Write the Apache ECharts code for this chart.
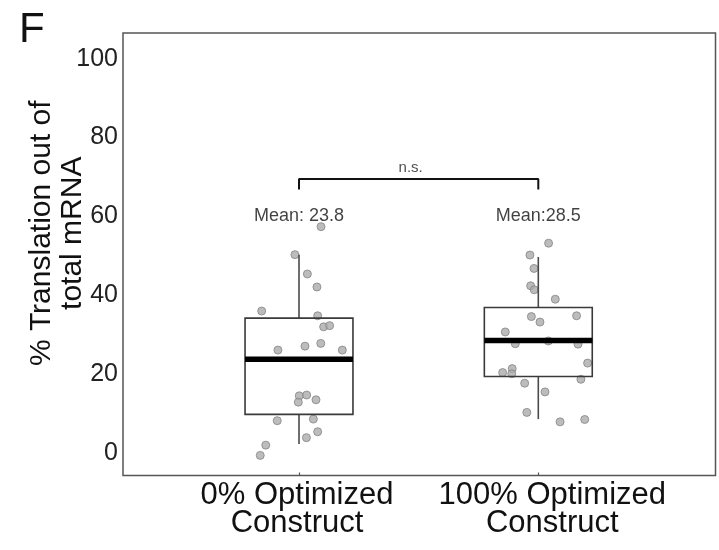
<!DOCTYPE html>
<html>
<head>
<meta charset="utf-8">
<script src="https://cdn.jsdelivr.net/npm/echarts@6/dist/echarts.min.js"></script>
<style>
  html, body { margin: 0; padding: 0; background: #fff; }
  #chart { width: 719px; height: 550px; }
</style>
</head>
<body>
<div id="chart"></div>
<script>
// Constructs compared (x positions 0 and 1 on the value axis)
const categories = ['0% Optimized\nConstruct', '100% Optimized\nConstruct'];

// Box summary per construct
const whiskerLow  = [2.3, 8.6];
const quartile1   = [9.8, 19.4];
const means       = [23.8, 28.5];
const quartile3   = [34.2, 36.9];
const whiskerHigh = [50.3, 49.7];
const meanLabels  = ['Mean: 23.8', 'Mean:28.5'];
const meanLabelLevel = 60;

// Individual measurements (% translation) and their horizontal jitter
const values0 = [57.4, 50.3, 45.4, 42.1, 36.0, 34.8, 32.0, 32.3, 26.1, 27.1, 27.8,
                 26.1, 14.5, 14.7, 12.9, 13.5, 8.2, 8.6, 5.4, 3.9, 2.0, -0.6];
const jitter0 = [0.092, -0.017, 0.035, 0.075, -0.156, 0.078, 0.103, 0.128, -0.088, 0.025, 0.091,
                 0.181, 0.001, 0.032, -0.003, 0.071, -0.091, 0.060, 0.078, 0.031, -0.139, -0.162];
const values1 = [53.2, 50.2, 46.8, 42.4, 41.4, 39.0, 34.6, 33.2, 34.8, 30.7, 27.7, 28.4,
                 27.6, 22.8, 21.4, 20.4, 20.1, 18.7, 17.7, 15.5, 10.3, 7.9, 8.5];
const jitter1 = [0.043, -0.035, -0.018, -0.032, -0.017, 0.071, -0.029, 0.007, 0.160, -0.138, -0.096, 0.042,
                 0.166, 0.206, -0.109, -0.149, -0.111, 0.178, -0.057, 0.028, -0.048, 0.091, 0.194];

// Significance bracket
const bracketTop = 69.5;
const bracketEnd = 66.8;
const bracketText = 'n.s.';

// Axis ticks
const yTicks = [0, 20, 40, 60, 80, 100];
const xTicks = [0, 1];

const FONT = '"Liberation Sans", Arial, Helvetica, sans-serif';
const BOX_WIDTH = 0.451; // in x-axis units

const chart = echarts.init(document.getElementById('chart'), null, { renderer: 'canvas' });

const pointData = [];
values0.forEach((v, i) => pointData.push([0 + jitter0[i], v]));
values1.forEach((v, i) => pointData.push([1 + jitter1[i], v]));

const boxData = categories.map((c, i) =>
  [i, whiskerLow[i], quartile1[i], means[i], quartile3[i], whiskerHigh[i]]);

function renderBox(params, api) {
  const x = api.value(0);
  const lo = api.coord([x, api.value(1)]);
  const q1 = api.coord([x, api.value(2)]);
  const mid = api.coord([x, api.value(3)]);
  const q3 = api.coord([x, api.value(4)]);
  const hi = api.coord([x, api.value(5)]);
  const half = api.size([BOX_WIDTH, 0])[0] / 2;
  const cx = q1[0];
  const lineStyle = { stroke: '#4a4a4a', lineWidth: 1.6, fill: null };
  return {
    type: 'group',
    children: [
      { type: 'line', shape: { x1: cx, y1: hi[1], x2: cx, y2: q3[1] }, style: lineStyle },
      { type: 'line', shape: { x1: cx, y1: q1[1], x2: cx, y2: lo[1] }, style: lineStyle },
      { type: 'rect', shape: { x: cx - half, y: q3[1], width: half * 2, height: q1[1] - q3[1] },
        style: { stroke: '#3a3a3a', lineWidth: 1.6, fill: null } },
      { type: 'line', shape: { x1: cx - half, y1: mid[1], x2: cx + half, y2: mid[1] },
        style: { stroke: '#000', lineWidth: 5.5 } }
    ]
  };
}

const option = {
  animation: false,
  backgroundColor: '#ffffff',
  title: {
    text: 'F',
    left: 14,
    top: 4,
    textStyle: { fontFamily: FONT, fontSize: 42, fontWeight: 'normal', color: '#111' }
  },
  grid: {
    left: 123, right: 3.5, top: 33, bottom: 74.5,
    outerBoundsMode: 'none',
    containLabel: false,
    show: true, borderColor: '#555', borderWidth: 1.5, backgroundColor: 'transparent'
  },
  xAxis: {
    type: 'value',
    min: -0.7355,
    max: 1.7405,
    splitLine: { show: false },
    axisLine: { show: false, onZero: false },
    axisTick: { show: true, inside: true, length: 3, customValues: xTicks,
                lineStyle: { color: '#555', width: 1.2 } },
    axisLabel: {
      customValues: xTicks,
      margin: 6,
      formatter: function (v) {
        const i = Math.round(v);
        const key = i === 0 ? 'c0' : 'c1';
        return categories[i].split('\n').map(l => '{' + key + '|' + l + '}').join('\n');
      },
      rich: {
        c0: { fontFamily: FONT, fontSize: 31, lineHeight: 28, color: '#111', padding: [0, 4, 0, 0] },
        c1: { fontFamily: FONT, fontSize: 31, lineHeight: 28, color: '#111', padding: [0, 0, 0, 28] }
      }
    }
  },
  yAxis: {
    type: 'value',
    min: -5.7,
    max: 106.5,
    name: '% Translation out of\ntotal mRNA',
    nameLocation: 'middle',
    nameRotate: 90,
    nameGap: 35,
    nameMoveOverlap: false,
    nameTextStyle: { fontFamily: FONT, fontSize: 30, lineHeight: 31, color: '#111',
                     padding: [0, 0, 0, 42] },
    splitLine: { show: false },
    axisLine: { show: false, onZero: false },
    axisTick: { show: false },
    axisLabel: {
      customValues: yTicks,
      margin: 5,
      fontFamily: FONT, fontSize: 25, color: '#222'
    }
  },
  series: [
    {
      type: 'scatter',
      data: pointData,
      symbolSize: 8,
      itemStyle: { color: '#ababab', borderColor: '#858585', borderWidth: 1 },
      z: 2
    },
    {
      type: 'custom',
      data: boxData,
      renderItem: renderBox,
      encode: { x: 0, y: [1, 2, 3, 4, 5] },
      z: 3
    },
    {
      type: 'line',
      data: [[0, bracketEnd], [0, bracketTop], [1, bracketTop], [1, bracketEnd]],
      symbol: 'none',
      lineStyle: { color: '#111', width: 2 },
      z: 3
    },
    {
      type: 'scatter',
      symbolSize: 1,
      itemStyle: { color: 'rgba(0,0,0,0)' },
      data: [[0.5, bracketTop]],
      label: {
        show: true, position: 'top', distance: 3, offset: [-8, 0],
        formatter: bracketText,
        fontFamily: FONT, fontSize: 15, color: '#222'
      },
      z: 4
    },
    {
      type: 'scatter',
      symbolSize: 1,
      itemStyle: { color: 'rgba(0,0,0,0)' },
      data: means.map((m, i) => [i, meanLabelLevel]),
      label: {
        show: true, position: 'inside',
        formatter: p => meanLabels[p.dataIndex],
        fontFamily: FONT, fontSize: 18, color: '#111'
      },
      z: 4
    }
  ]
};

chart.setOption(option);
</script>
</body>
</html>
